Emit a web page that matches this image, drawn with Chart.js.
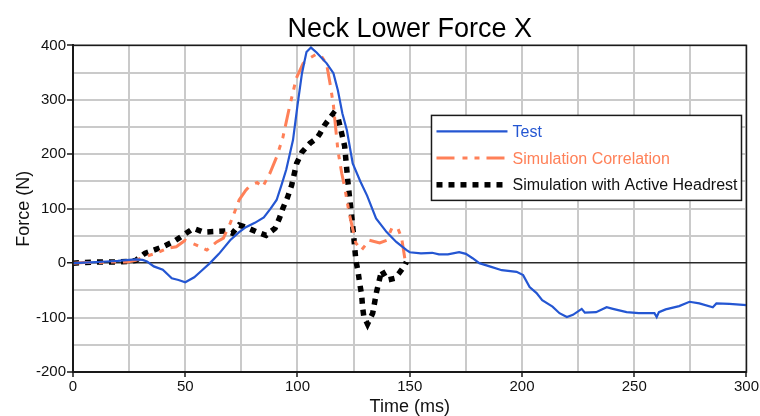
<!DOCTYPE html>
<html><head><meta charset="utf-8">
<script src="https://cdn.jsdelivr.net/npm/chart.js@4.4.1/dist/chart.umd.min.js"></script>
<style>html,body{margin:0;padding:0;background:#fff}canvas{display:block}</style>
</head><body>
<canvas id="c" width="760" height="416"></canvas>
<script>
// ---- data ----
const chartTitle = 'Neck Lower Force X';
const xAxisTitle = 'Time (ms)';
const yAxisTitle = 'Force (N)';
const seriesNames = ['Test', 'Simulation Correlation', 'Simulation with Active Headrest'];

const testTime  = [0,5,10,15,20,25,28,31,33,36,40,44,47,50,54,57,61,65,70,74,77,81,85,88,90.7,93,95,98,100,102,104,106,108.5,113,116,118,120,122,124.6,128,131,135,139.7,144,148.6,150,155,160,163,167,172,175,178,181,185.6,191,197.6,200.5,203.4,206.5,209,213.6,216.7,220,222.7,226.6,228,233,237.7,240.5,246.6,252,259,260,261,264,270,274.6,279,285,286.6,292.4,300];
const testForce = [0,1,2,3,4,6,7,6,3,-6,-12,-28,-31,-35,-26,-15,0,17,42,57,66,74,84,100,116,145,172,226,290,349,388,396,387,367,349,317,275,244,183,150,124,82,57,39,24,20,18,19,16,16,20,17,9,0,-6,-13,-16,-22,-44,-55,-68,-80,-92,-99,-95,-84,-91,-90,-81,-84,-90,-92,-92,-99,-90,-85,-79,-71,-74,-81,-74,-75,-77];

const corrTime  = [0,5,10,15,20,24,28,32,37,42,46,50,55,59.6,64,67,70,72,74,77,79,82,84.5,87.7,90.7,93.5,96.6,99.5,102.5,106,108.5,111,113,114.5,116,118,119.7,121,123,126,128.5,132,136.6,139.7,142,144.7,146.4,147.8,149];
const corrForce = [0,1,1,2,2,2,5,12,18,27,30,42,33,24,39,46,73,94,116,134,143,148,140,165,195,231,290,340,367,378,384,378,365,330,290,207,165,140,92,37,24,42,37,42,64,64,46,9,2];

const headTime  = [0,5,10,15,20,24,28,32,36,40,45,49,53.6,58,63,68.5,71,74,77,82,86,90,92,93.5,95.5,97.4,99.6,102,105.5,108.5,110,112,116,118,119.7,121,122.4,123.3,124,125,126,127,127.7,128.6,129,129.5,131.2,133.5,135.2,137.5,140,143.3,145.5,147.8,148.5];
const headForce = [0,1,2,2,2,3,5,18,24,30,40,51,64,57,58,59,55,70,66,57,51,64,83,101,120,143,183,204,220,229,238,253,275,268,238,215,152,116,92,51,5,-16,-37,-59,-81,-97,-112,-92,-53,-13,-31,-28,-17,-4,2];

const xTicks = [0, 50, 100, 150, 200, 250, 300];
const yTicks = [-200, -100, 0, 100, 200, 300, 400];

// ---- styles ----
const FONT = "'Liberation Sans', Arial, sans-serif";
const BLUE = '#2456d2';
const ORANGE = '#ff8058';
const BLACK = '#000000';

function pts(t, f) { return t.map((x, i) => ({ x: x, y: f[i] })); }

const framePlugin = {
  id: 'frame',
  afterDatasetsDraw(chart) {
    const a = chart.chartArea, ctx = chart.ctx;
    ctx.save();
    ctx.strokeStyle = '#1a1a1a';
    ctx.lineWidth = 1.5;
    ctx.strokeRect(a.left, a.top, a.right - a.left, a.bottom - a.top);
    ctx.restore();
  }
};

const legendPlugin = {
  id: 'boxLegend',
  afterDraw(chart) {
    const a = chart.chartArea, ctx = chart.ctx;
    const w = 310, h = 85;
    const x = a.right - 5 - w, y = a.top + 70;
    ctx.save();
    ctx.fillStyle = '#fff';
    ctx.fillRect(x, y, w, h);
    ctx.strokeStyle = '#1a1a1a';
    ctx.lineWidth = 1.5;
    ctx.strokeRect(x, y, w, h);
    chart.data.datasets.forEach((ds, i) => {
      const cy = y + 16 + i * 26.7;
      ctx.beginPath();
      ctx.setLineDash(ds.borderDash || []);
      ctx.lineWidth = ds.borderWidth;
      ctx.strokeStyle = ds.borderColor;
      ctx.lineCap = 'butt';
      ctx.moveTo(x + 5, cy);
      ctx.lineTo(x + 76, cy);
      ctx.stroke();
      ctx.setLineDash([]);
      ctx.fillStyle = ds.textColor;
      ctx.font = '16px ' + FONT;
      ctx.textBaseline = 'middle';
      ctx.textAlign = 'left';
      ctx.fillText(ds.label, x + 81, cy + 1);
    });
    ctx.restore();
  }
};

new Chart(document.getElementById('c'), {
  type: 'line',
  data: {
    datasets: [
      { label: seriesNames[0], data: pts(testTime, testForce), borderColor: BLUE, textColor: BLUE,
        borderWidth: 2.2, pointRadius: 0, tension: 0, fill: false },
      { label: seriesNames[1], data: pts(corrTime, corrForce), borderColor: ORANGE, textColor: ORANGE,
        borderWidth: 3, borderDash: [18, 8, 5, 7, 5, 7], pointRadius: 0, tension: 0, fill: false },
      { label: seriesNames[2], data: pts(headTime, headForce), borderColor: BLACK, textColor: '#111',
        borderWidth: 5.5, borderDash: [6, 6], pointRadius: 0, tension: 0, fill: false, borderCapStyle: 'butt' }
    ]
  },
  options: {
    responsive: false,
    animation: false,
    devicePixelRatio: 1,
    layout: { padding: { top: 0, right: 13, bottom: 0, left: 0 } },
    plugins: {
      legend: { display: false },
      tooltip: { enabled: false },
      title: {
        display: true, text: chartTitle, fullSize: false, color: '#000',
        font: { family: FONT, size: 27, weight: 'normal', lineHeight: 1.2 },
        padding: { top: 13, bottom: 0 }
      }
    },
    scales: {
      x: {
        type: 'linear', min: 0, max: 300,
        afterFit(s) { s.height = 44; },
        border: { display: true, color: '#1a1a1a', width: 2 },
        grid: {
          color: '#cacaca', lineWidth: 2, drawTicks: true, tickLength: 5, tickWidth: 1.5,
          tickColor: c => (xTicks.includes(c.tick.value) ? '#1a1a1a' : 'rgba(0,0,0,0)')
        },
        ticks: {
          stepSize: 25, autoSkip: false, maxRotation: 0, padding: 1, color: '#111',
          font: { family: FONT, size: 15 },
          callback: v => (xTicks.includes(v) ? String(v) : '')
        },
        title: {
          display: true, text: xAxisTitle, color: '#111',
          font: { family: FONT, size: 18, lineHeight: 1 }, padding: { top: 0, bottom: 0 }
        }
      },
      y: {
        type: 'linear', min: -200, max: 400,
        afterFit(s) { s.width = 73; },
        border: { display: true, color: '#1a1a1a', width: 2 },
        grid: {
          color: c => (c.tick && c.tick.value === 0 ? '#2a2a2a' : '#cacaca'),
          lineWidth: c => (c.tick && c.tick.value === 0 ? 1.5 : 2),
          drawTicks: true, tickLength: 6, tickWidth: 1.5,
          tickColor: c => (yTicks.includes(c.tick.value) ? '#1a1a1a' : 'rgba(0,0,0,0)')
        },
        ticks: {
          stepSize: 50, autoSkip: false, padding: 1, color: '#111',
          font: { family: FONT, size: 15 },
          callback: v => (yTicks.includes(v) ? String(v) : '')
        },
        title: {
          display: true, text: yAxisTitle, color: '#111',
          font: { family: FONT, size: 18, lineHeight: 1 }, padding: { top: 15, bottom: 0 }
        }
      }
    }
  },
  plugins: [framePlugin, legendPlugin]
});
</script>
</body></html>
